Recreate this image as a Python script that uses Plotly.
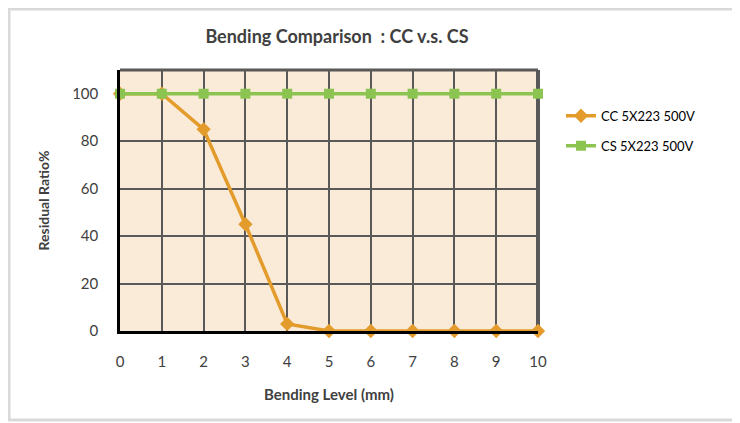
import plotly.graph_objects as go

bending_level = [0, 1, 2, 3, 4, 5, 6, 7, 8, 9, 10]
cc_values = [100, 100, 85, 45, 3, 0, 0, 0, 0, 0, 0]
cs_values = [100, 100, 100, 100, 100, 100, 100, 100, 100, 100, 100]
cc_name = "CC 5X223 500V"
cs_name = "CS 5X223 500V"
y_ticks = [0, 20, 40, 60, 80, 100]
x_ticks = bending_level

FONT = "Lato"
TXT = "#404040"

fig = go.Figure()
fig.add_trace(go.Scatter(
    x=bending_level, y=cc_values, name=cc_name, mode="lines+markers",
    legendgroup="cc",
    line=dict(color="#E39B2B", width=3.5),
    marker=dict(symbol="diamond", size=11, color="#E39B2B"),
    cliponaxis=False,
))
fig.add_trace(go.Scatter(
    x=bending_level, y=cs_values, name=cs_name, mode="lines+markers",
    legendgroup="cs",
    line=dict(color="#8CC452", width=3.5),
    marker=dict(symbol="square", size=10, color="#8CC452"),
    cliponaxis=False,
))

L, R, T, B = 112, 530, 62, 323  # plot area in figure px
W, H = 740, 423
pw, ph = R - L, B - T

fig.update_layout(
    width=W, height=H,
    margin=dict(l=L, r=W - R, t=T, b=H - B, autoexpand=False),
    paper_bgcolor="white",
    plot_bgcolor="#FAEBD8",
    font=dict(family=FONT, color=TXT, size=14),
    title=dict(text="<b>Bending Comparison  : CC v.s. CS</b>", x=(329 - L) / pw, xanchor="center",
               xref="paper", y=1 - 29 / H, yanchor="middle",
               font=dict(family=FONT, size=18, color=TXT)),
    showlegend=True,
    legend=dict(x=1.055, y=0.882, xanchor="left", yanchor="top",
                traceorder="grouped",
                font=dict(family=FONT, size=13, color="#000000"),
                bgcolor="rgba(0,0,0,0)", tracegroupgap=10, itemwidth=30),
    xaxis=dict(range=[0, 10], tickvals=x_ticks, showgrid=True, gridcolor="#595959",
               gridwidth=2, showline=True, linecolor="#000000", linewidth=2.5,
               zeroline=False, ticks="", ticklabelstandoff=15,
               tickfont=dict(family=FONT, size=15, color=TXT),
               title=dict(text="<b>Bending Level (mm)</b>", standoff=21,
                          font=dict(family=FONT, size=15, color=TXT))),
    yaxis=dict(range=[0, 110], tickvals=y_ticks, showgrid=True, gridcolor="#595959",
               gridwidth=2, showline=True, linecolor="#000000", linewidth=2.5,
               zeroline=False, ticks="", ticklabelstandoff=16,
               tickfont=dict(family=FONT, size=15, color=TXT),
               title=dict(text="<b>Residual Ratio%</b>", standoff=20,
                          font=dict(family=FONT, size=14, color=TXT))),
)

# top and right frame of the plot area
fig.add_shape(type="line", xref="paper", yref="paper", x0=0, x1=1, y0=1, y1=1,
              line=dict(color="#595959", width=3), layer="below")
fig.add_shape(type="line", xref="paper", yref="paper", x0=1, x1=1, y0=0, y1=1,
              line=dict(color="#595959", width=4), layer="below")
# outer chart border
fig.add_shape(type="rect", xref="paper", yref="paper",
              x0=(1 - L) / pw, x1=(727 - L) / pw,
              y0=(B - 412) / ph, y1=(B - 1) / ph,
              line=dict(color="#D9D9D9", width=3), fillcolor="rgba(0,0,0,0)")

fig.write_html("out.html")
